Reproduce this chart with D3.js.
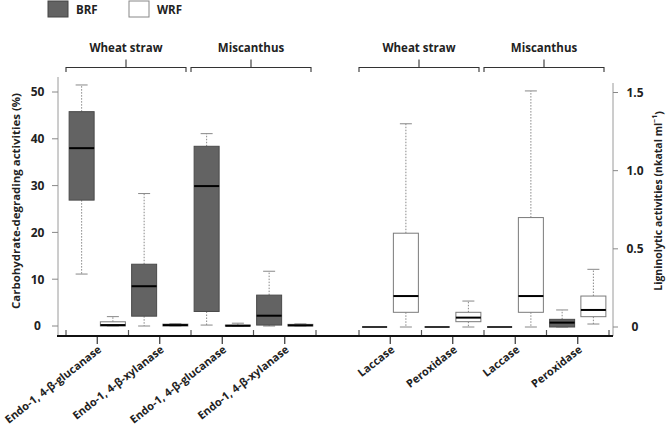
<!DOCTYPE html>
<html>
<head>
<meta charset="utf-8">
<script src="https://cdn.jsdelivr.net/npm/d3@7"></script>
<style>
  body { margin: 0; background: #fff; }
  svg { display: block; }
  text { font-family: "Open Sans", Lato, sans-serif; font-weight: 700; fill: #222; }
</style>
</head>
<body>
<svg id="chart" width="667" height="432"></svg>
<script>
// ---- Data ----
const groups = ["Wheat straw", "Miscanthus"];
const series = ["BRF", "WRF"];
const leftCategories = ["Endo-1, 4-β-glucanase", "Endo-1, 4-β-xylanase", "Endo-1, 4-β-glucanase", "Endo-1, 4-β-xylanase"];
const rightCategories = ["Laccase", "Peroxidase", "Laccase", "Peroxidase"];
// box stats: [min, q1, median, q3, max]
const brfLeft = [[11.1, 26.9, 38.0, 45.8, 51.5], [0, 2.1, 8.5, 13.2, 28.3], [0.2, 3.1, 29.9, 38.4, 41.1], [0, 0.2, 2.2, 6.6, 11.7]];
const wrfLeft = [[0, 0, 0.2, 0.9, 2.0], [0, 0, 0.2, 0.4, 0.5], [0, 0, 0.05, 0.2, 0.6], [0, 0, 0.15, 0.35, 0.45]];
const brfRight = [[0, 0, 0, 0, 0], [0, 0, 0, 0, 0], [0, 0, 0, 0, 0], [0, 0, 0.028, 0.049, 0.109]];
const wrfRight = [[0, 0.094, 0.198, 0.60, 1.30], [0, 0.034, 0.06, 0.094, 0.166], [0, 0.094, 0.198, 0.70, 1.51], [0.019, 0.066, 0.109, 0.198, 0.369]];
const leftTicks = [0, 10, 20, 30, 40, 50];
const rightTicks = [0, 0.5, 1.0, 1.5];
const leftTitle = "Carbohydrate-degrading  activities  (%)";
const rightTitleMain = "Ligninolytic activities (nkatal ml";
const rightTitleSup = "−1";

// ---- Layout ----
const svg = d3.select("#chart");
const colors = { BRF: "#636363", WRF: "#ffffff" };
const strokes = { BRF: "#4a4a4a", WRF: "#7a7a7a" };
const xAxisY = 336;

const yLeft = d3.scaleLinear().domain([0, 50]).range([326, 92]);
const yRight = d3.scaleLinear().domain([0, 1.5]).range([327, 92.5]);

const panels = [
  { cats: leftCategories, data: { BRF: brfLeft, WRF: wrfLeft }, range: [66, 316], y: yLeft },
  { cats: rightCategories, data: { BRF: brfRight, WRF: wrfRight }, range: [359, 609], y: yRight }
];

// axes lines
svg.append("line").attr("x1", 58).attr("x2", 58).attr("y1", 77).attr("y2", xAxisY)
  .attr("stroke", "#9a9a9a").attr("stroke-width", 1);
svg.append("line").attr("x1", 613).attr("x2", 613).attr("y1", 83).attr("y2", xAxisY)
  .attr("stroke", "#9a9a9a").attr("stroke-width", 1);

// left ticks
const lt = svg.append("g");
leftTicks.forEach(t => {
  lt.append("line").attr("x1", 52).attr("x2", 58).attr("y1", yLeft(t)).attr("y2", yLeft(t)).attr("stroke", "#888");
  lt.append("text").attr("x", 37.5).attr("y", yLeft(t)).attr("dy", "0.36em")
    .attr("text-anchor", "middle").attr("font-size", 12).text(t);
});
const rt = svg.append("g");
rightTicks.forEach(t => {
  rt.append("line").attr("x1", 613).attr("x2", 618).attr("y1", yRight(t)).attr("y2", yRight(t)).attr("stroke", "#888");
  rt.append("text").attr("x", 635).attr("y", yRight(t)).attr("dy", "0.36em")
    .attr("text-anchor", "middle").attr("font-size", 12).text(t === 0 ? "0" : d3.format(".1f")(t));
});

// titles
svg.append("text").attr("transform", "translate(16,201) rotate(-90)")
  .attr("text-anchor", "middle").attr("font-size", 10.5).attr("dy", "0.35em")
  .attr("textLength", 216).attr("lengthAdjust", "spacingAndGlyphs").text(leftTitle);
const rtT = svg.append("text").attr("transform", "translate(658,201) rotate(-90)")
  .attr("text-anchor", "middle").attr("font-size", 10.5).attr("dy", "0.35em");
rtT.append("tspan").text(rightTitleMain);
rtT.append("tspan").attr("font-size", 7).attr("dy", "-0.6em").text(rightTitleSup);
rtT.append("tspan").attr("dy", "0.5em").text(")");

panels.forEach(p => {
  const x = d3.scaleBand().domain(d3.range(p.cats.length)).range(p.range);
  const inner = d3.scaleBand().domain(series).range([0, x.bandwidth()]).paddingInner(0.2).paddingOuter(0.1);
  const bw = inner.bandwidth();

  // up ticks at boundaries
  const bounds = d3.range(p.cats.length + 1).map(i => p.range[0] + i * x.step());
  bounds.forEach(b => {
    svg.append("line").attr("x1", b).attr("x2", b).attr("y1", xAxisY - 6).attr("y2", xAxisY)
      .attr("stroke", "#555").attr("stroke-width", 1.2);
  });
  // down ticks at centers and labels
  p.cats.forEach((c, i) => {
    const cx = x(i) + x.bandwidth() / 2;
    svg.append("line").attr("x1", cx).attr("x2", cx).attr("y1", xAxisY).attr("y2", xAxisY + 8)
      .attr("stroke", "#333").attr("stroke-width", 1.2);
    svg.append("text").attr("transform", `translate(${cx + 5},${xAxisY + 15}) rotate(-38)`)
      .attr("text-anchor", "end").attr("font-size", 11).text(c);
  });

  // boxes
  series.forEach(s => {
    p.data[s].forEach((st, i) => {
      const [mn, q1, md, q3, mx] = st;
      const x0 = x(i) + inner(s);
      const cx = x0 + bw / 2;
      const g = svg.append("g");
      const y = p.y;
      // whiskers
      g.append("line").attr("x1", cx).attr("x2", cx).attr("y1", y(q3)).attr("y2", y(mx))
        .attr("stroke", "#888").attr("stroke-dasharray", "1.5,1.5");
      g.append("line").attr("x1", cx).attr("x2", cx).attr("y1", y(q1)).attr("y2", y(mn))
        .attr("stroke", "#888").attr("stroke-dasharray", "1.5,1.5");
      g.append("line").attr("x1", cx - 6).attr("x2", cx + 6).attr("y1", y(mx)).attr("y2", y(mx)).attr("stroke", "#888");
      g.append("line").attr("x1", cx - 6).attr("x2", cx + 6).attr("y1", y(mn)).attr("y2", y(mn)).attr("stroke", "#888");
      // box
      if (q3 > q1) {
        g.append("rect").attr("x", x0).attr("y", y(q3)).attr("width", bw).attr("height", y(q1) - y(q3))
          .attr("fill", colors[s]).attr("stroke", strokes[s]).attr("stroke-width", 1);
      }
      g.append("line").attr("x1", x0).attr("x2", x0 + bw).attr("y1", y(md)).attr("y2", y(md))
        .attr("stroke", q3 > q1 ? "#000" : "#333").attr("stroke-width", 2);
    });
  });

  // brackets
  groups.forEach((gName, gi) => {
    const bx0 = p.range[0] + gi * 2 * x.step();
    const bx1 = bx0 + 2 * x.step() - 5;
    const mid = (bx0 + bx1) / 2;
    svg.append("path")
      .attr("d", `M${bx0},72 V67.5 H${bx1} V72 M${mid},67.5 V59.5`)
      .attr("fill", "none").attr("stroke", "#333").attr("stroke-width", 1.1);
    svg.append("text").attr("x", mid).attr("y", 51.5).attr("text-anchor", "middle")
      .attr("font-size", 11.5).text(gName);
  });
});

// x axis line
svg.append("line").attr("x1", 57).attr("x2", 613).attr("y1", xAxisY).attr("y2", xAxisY)
  .attr("stroke", "#111").attr("stroke-width", 2);

// legend
const legendX = [48, 129];
series.forEach((s, i) => {
  svg.append("rect").attr("x", legendX[i]).attr("y", 1).attr("width", 20).attr("height", 16)
    .attr("fill", colors[s]).attr("stroke", s === "BRF" ? "#444" : "#888");
  svg.append("text").attr("x", legendX[i] + 28).attr("y", 13.5).attr("font-size", 11.5).text(s);
});
</script>
</body>
</html>
